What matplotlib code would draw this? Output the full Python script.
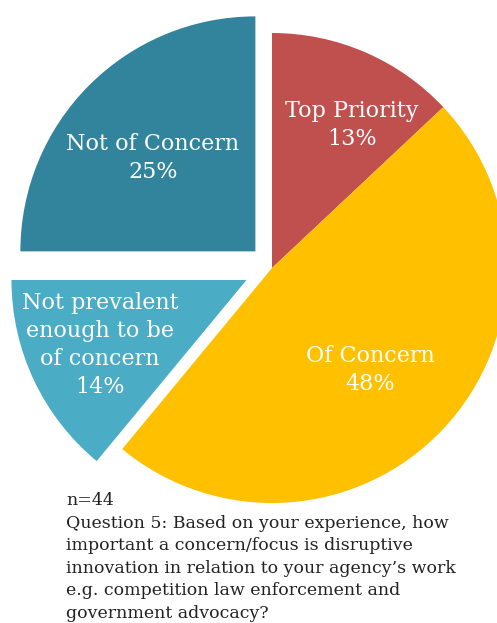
import matplotlib
matplotlib.use("Agg")
import matplotlib.pyplot as plt
import numpy as np

categories = ["Top Priority", "Of Concern", "Not prevalent\nenough to be\nof concern", "Not of Concern"]
shares = [13, 48, 14, 25]
colors = ["#C0504D", "#FFC000", "#4BACC6", "#31849B"]
explode = [0.0, 0.0, 0.12, 0.10]

sample_note = "n=44"
question = ("Question 5: Based on your experience, how\n"
            "important a concern/focus is disruptive\n"
            "innovation in relation to your agency\u2019s work\n"
            "e.g. competition law enforcement and\n"
            "government advocacy?")

W, H = 497, 623
fig = plt.figure(figsize=(W / 100, H / 100), dpi=100)
ax = fig.add_axes([0, 0, 1, 1])

# pie laid out in pixel units (y measured upward); explode is absolute in pie()
cx, cy, R = 272, H - 268, 235
wedges, _ = ax.pie(shares, colors=colors, explode=[e * R for e in explode],
                   startangle=90, counterclock=False, radius=R, center=(cx, cy),
                   wedgeprops=dict(linewidth=0))
ax.set_xlim(0, W)
ax.set_ylim(0, H)
ax.set_aspect("equal")
ax.axis("off")

font = "DejaVu Serif"
label_pos = [(352, 125), (370, 370), (100, 345), (153, 158)]
for name, val, (lx, ly) in zip(categories, shares, label_pos):
    ax.text(lx, H - ly, f"{name}\n{val}%", ha="center", va="center",
            color="white", fontsize=16, family=font, linespacing=1.36)

ax.text(66, H - 492, sample_note + "\n" + question, ha="left", va="top",
        color="#222222", fontsize=12.5, family=font, linespacing=1.43)

fig.savefig("out.png", dpi=100)
